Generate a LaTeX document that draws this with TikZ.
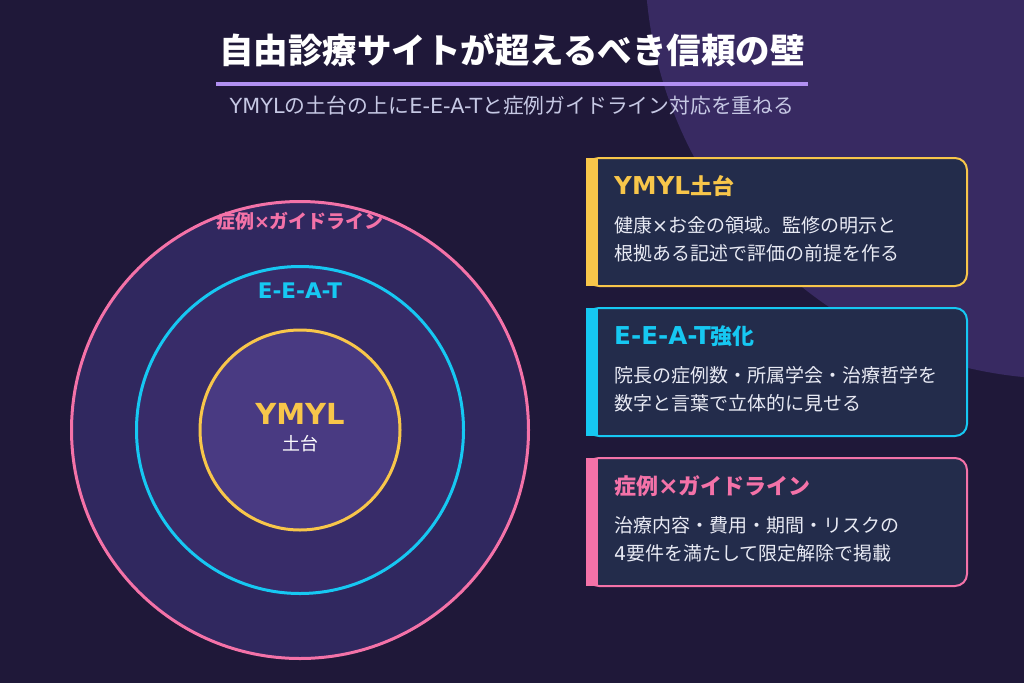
\documentclass[tikz,border=0pt]{standalone}
\usepackage{fontspec}
\setmainfont{Noto Sans CJK JP}
\newfontfamily\latf{DejaVu Sans}
\newfontfamily\latbig{DejaVu Sans}[Scale=1.12]
\usetikzlibrary{positioning}
\definecolor{bgdark}{HTML}{1F1839}
\definecolor{bgblob}{HTML}{382A62}
\definecolor{ringout}{HTML}{30285F}
\definecolor{ringmid}{HTML}{382C69}
\definecolor{ringin}{HTML}{493A82}
\definecolor{cardfill}{HTML}{232C4B}
\definecolor{Ycol}{HTML}{F8C64A}
\definecolor{Ecol}{HTML}{16C8F2}
\definecolor{Gcol}{HTML}{F472A8}
\definecolor{barcol}{HTML}{B190F2}
\definecolor{subcol}{HTML}{C6C8E4}
\definecolor{bodycol}{HTML}{E8EAF4}

\tikzset{
  ring/.style={circle,line width=3pt,inner sep=0pt,outer sep=0pt},
  card/.style={rectangle,rounded corners=12pt,line width=2pt,fill=cardfill,
               minimum width=380pt,minimum height=128pt,inner sep=0pt},
  cardhead/.style={anchor=west,inner sep=0pt,font=\fontsize{22}{26}\selectfont\bfseries},
  cardbody/.style={anchor=west,inner sep=0pt,align=left,text=bodycol,
                   font=\fontsize{19}{28}\selectfont},
}

\begin{document}
\begin{tikzpicture}[x=1pt,y=-1pt,line join=round]
% ---- background ----
\fill[bgdark] (0,0) rectangle (1024,683);
\useasboundingbox (0,0) rectangle (1024,683);
\begin{scope}
  \clip (0,0) rectangle (1024,683);
  \fill[bgblob] (1064,-40) circle[radius=419];
\end{scope}

% ---- title and subtitle ----
\node[text=white,font=\fontsize{34.5}{40}\selectfont\bfseries] (ttl) at (512,50)
  {自由診療サイトが超えるべき信頼の壁};
\fill[barcol] (216,82) rectangle (808,86);
\node[text=subcol,font=\fontsize{20.8}{24}\selectfont] (sub) at (512,106)
  {{\latf YMYL}の土台の上に{\latf E-E-A-T}と症例ガイドライン対応を重ねる};

% ---- the three layers ----
\node[ring,minimum size=457pt,draw=Gcol,fill=ringout] (ringG) at (300,430) {};
\node[ring,minimum size=327pt,draw=Ecol,fill=ringmid] (ringE) at (300,430) {};
\node[ring,minimum size=200pt,draw=Ycol,fill=ringin]  (ringY) at (300,430) {};

\node[text=Gcol,font=\fontsize{19}{22}\selectfont\bfseries] (lblG) at (300,221) {症例{\latf ×}ガイドライン};
\node[text=Ecol,font=\fontsize{21.5}{24}\selectfont\bfseries\latf] (lblE) at (300,291) {E-E-A-T};
\node[text=Ycol,font=\fontsize{29}{32}\selectfont\bfseries\latf] (lblY) at (300,414) {YMYL};
\node[text=white,font=\fontsize{18}{20}\selectfont,below=4pt of lblY] (lblBase) {土台};

% ---- cards ----
\foreach \n/\y/\c/\h/\la/\lb in {
  Y/157/Ycol/{{\latbig YMYL}土台}/{健康{\latf ×}お金の領域。監修の明示と}/{根拠ある記述で評価の前提を作る},
  E/307/Ecol/{{\latbig E-E-A-T}強化}/{院長の症例数・所属学会・治療哲学を}/{数字と言葉で立体的に見せる},
  G/457/Gcol/{症例{\latbig ×}ガイドライン}/{治療内容・費用・期間・リスクの}/{{\latf 4}要件を満たして限定解除で掲載}}{
  \node[card,draw=\c] (card\n) at (777,\y+65) {};
  \fill[\c] ([yshift=-1pt]card\n.north west) rectangle ([xshift=12pt,yshift=1pt]card\n.south west);
  \node[cardhead,text=\c] (head\n) at (614,\y+29) {\h};
  \node[cardbody] (body\n) at (614,\y+82) {\la\\\lb};
}
\end{tikzpicture}
\end{document}
